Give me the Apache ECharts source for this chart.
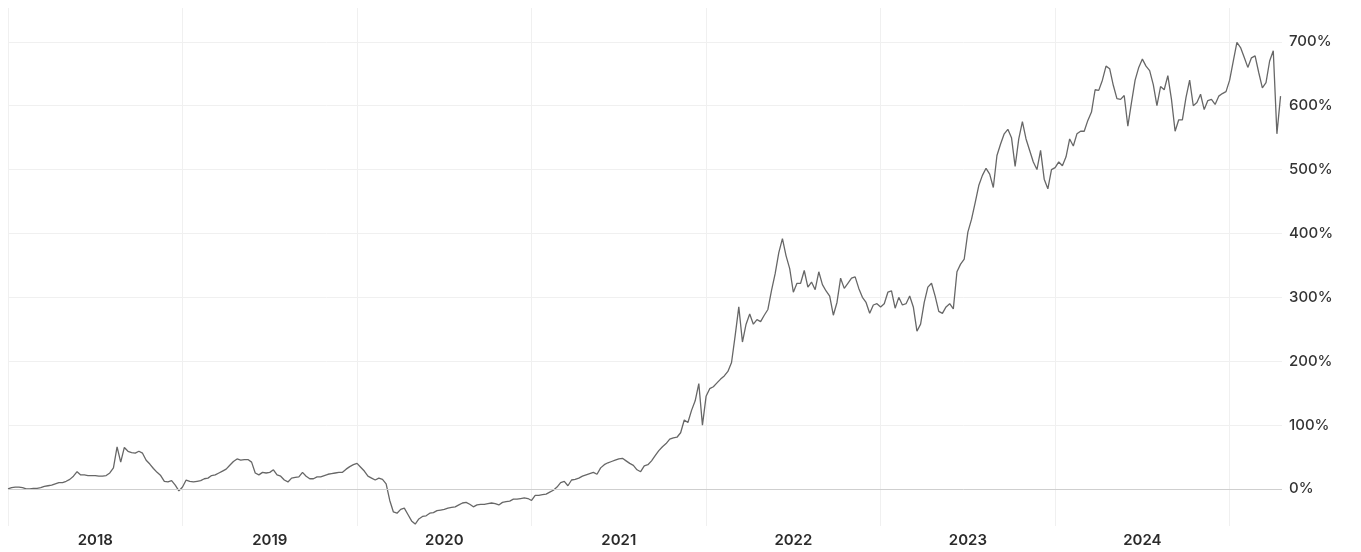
<!DOCTYPE html>
<html>
<head>
<meta charset="utf-8">
<script src="https://cdn.jsdelivr.net/npm/echarts@6/dist/echarts.min.js"></script>
<style>
  html, body { margin: 0; padding: 0; background: #ffffff; }
  #chart { width: 1361px; height: 552px; }
</style>
</head>
<body>
<div id="chart"></div>
<script>
// Cumulative return (%), 48 evenly spaced readings per calendar year
const y2018 = [0, 2, 3, 3, 2, 0, 0, 1, 1, 2, 4, 5, 6, 8, 10, 10, 12, 15, 20, 27, 22, 22, 21, 21, 21, 20, 20, 21, 25, 33, 66, 42, 65, 59, 57, 56, 59, 56, 45, 39, 32, 26, 21, 12, 11, 13, 6, -3];
const y2019 = [3, 14, 12, 11, 12, 13, 16, 17, 21, 22, 25, 28, 31, 37, 43, 47, 45, 46, 46, 42, 25, 22, 26, 25, 26, 30, 22, 20, 14, 11, 17, 18, 19, 26, 20, 16, 16, 19, 19, 21, 23, 24, 25, 26, 26, 31, 35, 38];
const y2020 = [40, 34, 28, 20, 17, 14, 17, 15, 8, -18, -36, -38, -32, -30, -40, -50, -55, -47, -43, -42, -38, -37, -34, -33, -32, -30, -29, -28, -25, -22, -21, -24, -28, -25, -24, -24, -23, -22, -23, -25, -21, -20, -19, -16, -16, -15, -14, -15];
const y2021 = [-18, -10, -10, -9, -8, -5, -2, 3, 10, 12, 5, 14, 15, 17, 20, 22, 24, 26, 23, 33, 38, 41, 43, 45, 47, 48, 44, 40, 37, 30, 27, 36, 38, 44, 52, 60, 66, 71, 78, 80, 81, 88, 108, 104, 123, 138, 165, 100];
const y2022 = [145, 157, 160, 166, 172, 177, 184, 198, 240, 285, 230, 258, 274, 258, 265, 262, 272, 281, 311, 337, 370, 392, 365, 345, 308, 322, 322, 342, 316, 324, 312, 340, 320, 310, 302, 272, 292, 330, 314, 322, 330, 332, 314, 300, 292, 275, 288, 290];
const y2023 = [285, 290, 308, 310, 283, 300, 288, 290, 302, 285, 247, 258, 292, 316, 322, 302, 278, 275, 285, 290, 282, 340, 352, 360, 402, 422, 448, 475, 491, 502, 493, 472, 522, 540, 556, 563, 550, 505, 548, 575, 548, 530, 512, 500, 530, 485, 470, 500];
const y2024 = [503, 512, 506, 520, 548, 537, 556, 560, 560, 577, 590, 625, 624, 640, 662, 658, 632, 611, 610, 616, 568, 605, 640, 660, 673, 662, 655, 633, 600, 630, 625, 647, 610, 560, 578, 578, 613, 640, 600, 605, 618, 594, 608, 610, 602, 615, 619, 622];
const y2025 = [640, 670, 699, 691, 676, 660, 675, 678, 652, 628, 636, 670, 686, 556, 615];

const years = [2018, 2019, 2020, 2021, 2022, 2023, 2024, 2025];
const yearValues = [y2018, y2019, y2020, y2021, y2022, y2023, y2024, y2025];
const perYear = 48;

const seriesData = [];
years.forEach(function (yr, i) {
  yearValues[i].forEach(function (v, k) {
    seriesData.push([yr + k / perYear, v]);
  });
});

const chart = echarts.init(document.getElementById('chart'), null, { renderer: 'canvas' });
const fontFam = 'Inter, "Noto Sans", "DejaVu Sans", sans-serif';

chart.setOption({
  animation: false,
  backgroundColor: '#ffffff',
  grid: { left: 8, right: 79, top: 8, bottom: 26, containLabel: false, outerBoundsMode: 'none' },
  xAxis: [
    {
      type: 'value', min: 2018, max: 2025.3, interval: 1,
      axisLine: { show: false }, axisTick: { show: false }, axisLabel: { show: false },
      splitLine: { show: true, showMaxLine: false, lineStyle: { color: '#f0f0f0', width: 1 } }
    },
    {
      type: 'value', position: 'bottom', min: 2018, max: 2025.3, interval: 0.5,
      axisLine: { show: false }, axisTick: { show: false }, splitLine: { show: false },
      axisLabel: {
        show: true, margin: 7, color: '#2b2b2b', fontSize: 15, fontWeight: 600, fontFamily: fontFam,
        showMinLabel: false, showMaxLabel: false, hideOverlap: false,
        formatter: function (v) {
          const f = v - Math.floor(v);
          return Math.abs(f - 0.5) < 1e-6 ? String(Math.floor(v)) : '';
        }
      }
    }
  ],
  yAxis: {
    type: 'value', position: 'right', min: -58, max: 753, splitNumber: 8,
    axisLine: { show: false }, axisTick: { show: false },
    axisLabel: {
      margin: 7, color: '#333333', fontSize: 15, fontWeight: 500, fontFamily: fontFam,
      showMinLabel: false, showMaxLabel: false,
      formatter: function (v) { return Math.round(v) + '%'; }
    },
    splitLine: { show: true, showMinLine: false, showMaxLine: false, lineStyle: { color: '#f0f0f0', width: 1 } }
  },
  series: [{
    type: 'line',
    xAxisIndex: 0,
    data: seriesData,
    showSymbol: false,
    symbol: 'none',
    lineStyle: { color: '#676767', width: 1.3 },
    markLine: {
      silent: true, symbol: ['none', 'none'], label: { show: false },
      lineStyle: { color: '#cfcfcf', type: 'solid', width: 1 },
      data: [{ yAxis: 0 }]
    },
    z: 3
  }]
});
</script>
</body>
</html>
